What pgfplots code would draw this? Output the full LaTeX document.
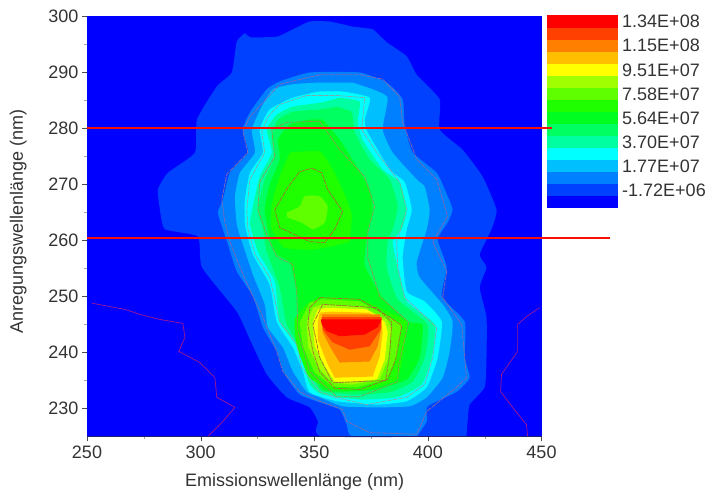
\documentclass[border=0pt]{standalone}
\usepackage{pgfplots}
\pgfplotsset{compat=1.18}
\usepackage{fontspec}
\setmainfont{Liberation Sans}
\definecolor{txt}{gray}{0.2}
\definecolor{bandA}{HTML}{0000FF}
\definecolor{bandB}{HTML}{0040FF}
\definecolor{bandC}{HTML}{0080FF}
\definecolor{bandD}{HTML}{00BFFF}
\definecolor{bandE}{HTML}{00FFFF}
\definecolor{bandF}{HTML}{00FFA0}
\definecolor{bandG}{HTML}{00FF60}
\definecolor{bandH}{HTML}{00FF20}
\definecolor{bandI}{HTML}{20FF00}
\definecolor{bandJ}{HTML}{60FF00}
\definecolor{bandK}{HTML}{A0FF00}
\definecolor{bandL}{HTML}{FFFF00}
\definecolor{bandM}{HTML}{FFBF00}
\definecolor{bandN}{HTML}{FF8000}
\definecolor{bandO}{HTML}{FF4000}
\definecolor{bandP}{HTML}{FF0000}
\definecolor{linepurple}{HTML}{A01890}
\definecolor{lineone}{HTML}{7A68B8}
\definecolor{linetwo}{HTML}{80A8A8}
\definecolor{linethree}{HTML}{8C9A50}
\definecolor{linefour}{HTML}{A07030}
\definecolor{scanred}{HTML}{F81008}
\definecolor{framenavy}{HTML}{202070}
\definecolor{framelight}{HTML}{A0A0D8}
\begin{document}
\begin{tikzpicture}
\useasboundingbox (0pt,0pt) rectangle (709pt,492pt);
% colour bar
\begin{axis}[at={(547pt,284pt)},anchor=south west,width=71pt,height=192.5pt,scale only axis,
  xmin=0,xmax=1,ymin=-1.59,ymax=13.88,axis line style={draw=none},xtick=\empty,
  ytick={13.4,11.47,9.51,7.58,5.64,3.70,1.77,-0.172},
  yticklabels={1.34E+08,1.15E+08,9.51E+07,7.58E+07,5.64E+07,3.70E+07,1.77E+07,-1.72E+06},
  yticklabel pos=right,major tick length=0pt,
  yticklabel style={font=\fontsize{18}{20}\selectfont,text=txt,inner sep=0pt,xshift=4pt},
  clip=false]
\addplot[fill=bandP,draw=none] coordinates {(0,13.88)(1,13.88)(1,-1.59)(0,-1.59)} -- cycle;
\addplot[fill=bandO,draw=none] coordinates {(0,12.91)(1,12.91)(1,-1.59)(0,-1.59)} -- cycle;
\addplot[fill=bandN,draw=none] coordinates {(0,11.95)(1,11.95)(1,-1.59)(0,-1.59)} -- cycle;
\addplot[fill=bandM,draw=none] coordinates {(0,10.98)(1,10.98)(1,-1.59)(0,-1.59)} -- cycle;
\addplot[fill=bandL,draw=none] coordinates {(0,10.01)(1,10.01)(1,-1.59)(0,-1.59)} -- cycle;
\addplot[fill=bandK,draw=none] coordinates {(0,9.05)(1,9.05)(1,-1.59)(0,-1.59)} -- cycle;
\addplot[fill=bandJ,draw=none] coordinates {(0,8.08)(1,8.08)(1,-1.59)(0,-1.59)} -- cycle;
\addplot[fill=bandI,draw=none] coordinates {(0,7.11)(1,7.11)(1,-1.59)(0,-1.59)} -- cycle;
\addplot[fill=bandH,draw=none] coordinates {(0,6.15)(1,6.15)(1,-1.59)(0,-1.59)} -- cycle;
\addplot[fill=bandG,draw=none] coordinates {(0,5.18)(1,5.18)(1,-1.59)(0,-1.59)} -- cycle;
\addplot[fill=bandF,draw=none] coordinates {(0,4.21)(1,4.21)(1,-1.59)(0,-1.59)} -- cycle;
\addplot[fill=bandE,draw=none] coordinates {(0,3.25)(1,3.25)(1,-1.59)(0,-1.59)} -- cycle;
\addplot[fill=bandD,draw=none] coordinates {(0,2.28)(1,2.28)(1,-1.59)(0,-1.59)} -- cycle;
\addplot[fill=bandC,draw=none] coordinates {(0,1.31)(1,1.31)(1,-1.59)(0,-1.59)} -- cycle;
\addplot[fill=bandB,draw=none] coordinates {(0,0.35)(1,0.35)(1,-1.59)(0,-1.59)} -- cycle;
\addplot[fill=bandA,draw=none] coordinates {(0,-0.62)(1,-0.62)(1,-1.59)(0,-1.59)} -- cycle;
\end{axis}
% main contour map
\begin{axis}[at={(87pt,55.5pt)},anchor=south west,width=454.5pt,height=420pt,scale only axis,
  xmin=250,xmax=450,ymin=225,ymax=300,clip=false,
  xtick={250,300,350,400,450},minor x tick num=1,
  ytick={230,240,250,260,270,280,290,300},minor y tick num=1,
  tick align=outside,tick pos=left,
  major tick length=5pt,minor tick length=3pt,
  every major tick/.append style={color=black!70},
  every minor tick/.append style={color=black!35},
  axis line style={color=framelight,line width=0.8pt},
  /pgf/number format/assume math mode=true,
  /pgf/number format/set thousands separator={},
  ticklabel style={font=\fontsize{18}{20}\selectfont,text=txt},
  xticklabel style={yshift=-1pt},
  xlabel={Emissionswellenlänge (nm)},
  ylabel={Anregungswellenlänge (nm)},
  xlabel style={font=\fontsize{18}{20}\selectfont,text=txt,at={(axis description cs:0.457,-0.08)},anchor=north},
  ylabel style={font=\fontsize{18}{20}\selectfont,text=txt,at={(axis description cs:-0.125,0.513)},anchor=south}]
\addplot[fill=bandA,draw=none] coordinates {(250,225)(450,225)(450,300)(250,300)} -- cycle;
% filled bands, outside in
\addplot[fill=bandB,draw=none,smooth,tension=0.3] coordinates {(417,225)(353.7,225)(351.6,227.7)(348,230.2)(337.9,232)(329.1,236.1)(321.7,242.3)(315.9,247.3)(300.6,255.2)(298.8,260.7)(284.3,262)(282.1,265.5)(281.2,269.1)(285.6,272.1)(297.5,275.7)(298.4,281.6)(307.1,287.5)(313.7,290)(315.9,295.5)(319.5,297)(321.7,296.3)(333.5,296.4)(340.6,297.7)(348,299.1)(356.8,299.1)(366.9,298.2)(375.7,297.7)(381.9,295.4)(390.7,292.9)(395.1,289.6)(405.2,285.2)(405.2,279.8)(415.3,276.2)(424.1,271.4)(430.2,265.5)(428,262)(422.8,257.5)(425.8,255.2)(422.8,251.6)(425.8,246.3)(425.8,239.1)(425,233.8)(418.4,230.7)(417.5,227.7)(417,225)} -- cycle;
\addplot[fill=bandC,draw=none,smooth,tension=0.3] coordinates {(395.1,225)(366.9,225)(364.3,227.1)(361.2,229.8)(352.4,231.1)(343.6,232.5)(337,236.1)(333.5,240.2)(327.4,244.5)(323,250)(315.9,254.5)(312,259.3)(309.8,262)(307.6,265)(309.8,267.3)(312.9,272.1)(320.8,275.7)(318.6,279.8)(321.7,282.9)(329.1,287)(334.8,288.4)(348,290)(370,290)(381.9,288.2)(388.9,285.2)(389.8,280.4)(393.3,275.7)(403.9,272.1)(408.7,267.9)(410.9,265.5)(408.7,263.2)(404.3,260.2)(408.3,255.2)(406.1,250)(416.2,245.5)(416.2,239.1)(418.4,235.5)(412.7,233)(399.9,230.4)(399.5,227.7)(395.1,225)} -- cycle;
\addplot[fill=bandD,draw=none,smooth,tension=0.3] coordinates {(366.9,288.2)(375.7,287)(382.3,285.5)(380.1,279.8)(384.5,275.7)(395.1,270.9)(398.6,269.6)(400.8,265.5)(399.5,262)(395.1,256.2)(396.4,253.4)(406.5,248.6)(410.9,245.5)(409.6,240.2)(406.5,235.5)(399.5,232)(392,230.4)(377.5,230.2)(362.5,230.4)(352.4,232)(346.7,233)(340.6,236.6)(336.2,240.9)(329.6,244.5)(328.2,248.6)(323,253.9)(318.6,259.3)(315.9,262.9)(315.1,267.9)(317.3,272.1)(323.9,275.7)(322.5,279.8)(326.9,283.9)(331.8,287)(340.6,287.9)(352.4,288.2)(366.9,288.2)} -- cycle;
\addplot[fill=bandE,draw=none,smooth,tension=0.3] coordinates {(362.5,286.6)(374.4,285.5)(372.2,281.6)(373.5,279.3)(383.2,272.7)(389.8,270.4)(392.9,265.5)(390.7,262)(388.9,257)(390.7,250.9)(398.6,249.1)(406.1,245.5)(404.3,239.1)(399.5,233.8)(390.7,231.3)(377.5,230.7)(359.9,231.3)(348,232.9)(345,236.6)(340.6,240.9)(333.5,245.5)(330.4,252.1)(323,257.5)(319.5,262.9)(319.5,267.3)(321.7,272.1)(327.4,275.7)(326,279.8)(330.4,283.4)(340.6,285.5)(352.4,286.6)(362.5,286.6)} -- cycle;
\addplot[fill=bandF,draw=none,smooth,tension=0.3] coordinates {(361.2,285.5)(370,284.8)(369.1,281.1)(371.3,278)(380.1,272.7)(387.6,270.4)(390.7,265.5)(388.5,262)(384.5,259.8)(386.7,255.2)(390.7,249.1)(403,245)(401.7,239.1)(397.3,234.3)(386.3,232)(370,231.6)(353.7,232.5)(348,234.3)(342.8,240.9)(334.8,245.5)(332.6,252.7)(325.2,258)(321.7,262.9)(323,266.1)(326,271.4)(331.3,275.7)(329.1,279.8)(333.5,282.5)(340.6,283.9)(352.4,284.6)(361.2,285.5)} -- cycle;
\addplot[fill=bandG,draw=none,smooth,tension=0.3] coordinates {(359.9,283.9)(366.5,282.9)(367.8,279.3)(374.4,274.5)(383.2,270.9)(386.7,266.1)(384.5,262)(382.3,259.8)(381.9,255.2)(386.7,249.5)(399.9,245)(398.6,239.1)(393.3,234.8)(383.2,232.9)(366.9,232.5)(352.4,233.4)(345,240.2)(337.9,245)(334.8,251.6)(329.1,258)(327.4,262)(325.2,265.5)(328.2,270.9)(332.6,275)(331.3,278.6)(334,281.6)(340.6,283)(352.4,283.4)(359.9,283.9)} -- cycle;
\addplot[fill=bandH,draw=none,smooth,tension=0.3] coordinates {(353.7,281.6)(361.2,278)(368.7,273.2)(374.4,269.1)(375.7,265.5)(373.5,261.6)(372.2,255.7)(379.7,250)(391.1,245.5)(397.7,245)(396.4,239.1)(390.7,235.2)(377.5,233.4)(362.5,233)(353.7,233.4)(348,237.8)(343.6,245)(342.3,250.9)(339.2,256.1)(333.5,257.5)(330.4,260.5)(328.2,265.5)(330.4,270)(334.8,274.5)(334,278)(339.2,280.7)(348,281.6)(353.7,281.6)} -- cycle;
\addplot[fill=bandI,draw=none,smooth,tension=0.3] coordinates {(339.2,275.7)(352.4,275.9)(358.1,272.7)(363.4,268.2)(366.5,264.6)(365.6,260.2)(364.5,259.6)(350.2,258.4)(337,258.7)(331.3,262)(331.3,266.4)(334.8,271.4)(339.2,275.7)} -- cycle;
\addplot[fill=bandI,draw=none,smooth,tension=0.3] coordinates {(346.7,248.6)(352.4,249.8)(370,249.5)(383.2,247.1)(390.7,245.4)(388.9,239.3)(386.3,235.2)(373.1,233.4)(358.1,233.4)(348,235.5)(342.3,241.1)(341.4,245.9)(346.7,248.6)} -- cycle;
\addplot[fill=bandJ,draw=none,smooth,tension=0.3] coordinates {(337.9,265)(343.6,266.1)(345.8,267.9)(352.4,267.9)(355.9,266.1)(354.6,263.2)(349.4,262)(344.5,263.2)(338.4,264.1)(337.9,265)} -- cycle;
\addplot[fill=bandJ,draw=none] coordinates {(348,248.9)(353.7,249.5)(370,249.1)(383.2,246.3)(388.5,245)(386.3,239.3)(381.9,235.2)(368.7,233.8)(358.1,233.9)(350.2,236.4)(345,241.1)(343.6,245.4)} -- cycle;
\addplot[fill=bandK,draw=none] coordinates {(349.4,248)(353.7,248.6)(371.3,248.2)(381.9,245.9)(384.1,244.1)(382.3,238.7)(378.8,235.2)(366.9,234.3)(358.1,234.6)(352.4,237)(347.2,241.1)(346.7,245.4)} -- cycle;
\addplot[fill=bandL,draw=none] coordinates {(351.6,247.7)(355.5,248)(373.1,247.7)(381,245.5)(382.3,243.6)(381,238.7)(377.5,235.2)(366.9,234.8)(359,234.8)(355.5,237)(350.2,241.1)(349.4,245.4)} -- cycle;
\addplot[fill=bandM,draw=none] coordinates {(352.4,247.1)(356.8,247.3)(374.4,247.1)(379.7,245.4)(380.1,243.6)(378.8,239.3)(375.7,235.7)(359,235.5)(355.9,237.9)(351.6,242.3)(351.6,245.4)} -- cycle;
\addplot[fill=bandN,draw=none] coordinates {(353.3,246.8)(378.8,246.8)(379.7,244.6)(377.9,241.1)(374.4,238.4)(361.2,238.2)(356.8,241.1)(353.7,243.6)} -- cycle;
\addplot[fill=bandO,draw=none] coordinates {(353.3,246.3)(379.7,246.3)(379.2,244.1)(374.4,241.1)(365.6,240.5)(358.1,241.8)(353.7,244.1)} -- cycle;
\addplot[fill=bandP,draw=none] coordinates {(352.9,245.9)(379.7,245.9)(377.9,244.5)(372.2,243.2)(361.2,242.9)(355.5,243.8)(353.3,245)} -- cycle;
% contour lines
\addplot[draw=linepurple,line width=0.7pt] coordinates {(252.2,248.8)(266.7,247.7)(273.3,246.8)(282.1,245.9)(292.2,245.2)(293.1,242.7)(290.4,240.2)(299.7,238.2)(306.3,235.5)(307.1,232)(315.1,230.2)(309.8,227.7)(303.2,225)};
\addplot[draw=linepurple,line width=0.7pt] coordinates {(449.1,248)(443.4,246.4)(439.5,245)(439.5,240.2)(432.4,236.1)(432,233)(437.3,230.2)(443.4,227.1)(443.9,225)};
\addplot[draw=lineone,line width=0.8pt,dash pattern=on 5pt off 1pt] coordinates {(352.4,289.6)(334.8,287.9)(321.7,282.1)(318.6,279.5)(320.8,275.7)(311.5,271.8)(309.3,267.3)(310.7,263.2)(312.9,259.8)(317.3,255.2)(323,250)(326.9,246.8)(333.5,240.2)(336.2,236.6)(343.6,233)(352.4,231.3)(362.5,229.8)(364.3,227.7)(374.4,225.7)(395.1,225.4)(399.5,229.5)(412.7,233.8)(417,235.5)(414.9,245)(406.5,249.8)(408.3,254.5)(402.1,259.8)(408.7,264.3)(403.9,270.9)(395.1,274.5)(388.9,281.1)(387.6,285.7)(380.1,288.8)(370,289.6)(352.4,289.6)};
\addplot[draw=linetwo,line width=0.7pt,dash pattern=on 5pt off 1pt] coordinates {(346.7,285.9)(334.8,284.3)(329.6,282.1)(326.9,279.5)(328.2,275.7)(321.7,270.9)(320.3,265.5)(320.8,262)(323.9,257.5)(330.4,253.4)(334.8,245.5)(342.3,241.4)(344.5,237.3)(352.4,233)(359,232)(373.1,230.7)(390.7,232)(398.6,234.3)(402.1,239.1)(403.9,244.5)(389.8,249.8)(386.7,255.2)(386.3,259.8)(390.7,265.5)(387.6,270.4)(377.5,275.7)(370.9,279.8)(372.2,285.5)(359.9,285.9)(346.7,285.9)};
\addplot[draw=linethree,line width=0.7pt,dash pattern=on 5pt off 1pt] coordinates {(352.4,281.3)(361.2,276.2)(372.2,271.4)(376.6,266.1)(373.5,261.4)(373.5,257)(378.8,250)(391.6,245.4)(387.2,237.9)(386.7,234.8)(370,232.1)(359.9,232.1)(348,236.6)(342.8,243.8)(342.3,250.9)(340.6,255.7)(333.5,257.1)(329.6,260.5)(325.2,265.5)(326,270.4)(332.6,275)(331.3,279.8)(337.9,281.1)(352.4,281.3)};
\addplot[draw=linefour,line width=0.7pt,dash pattern=on 5pt off 1pt] coordinates {(348.9,272.9)(353.3,272.1)(355.9,269.1)(362.5,265.2)(359,262)(354.6,259.6)(348,259.8)(334.8,262.3)(332.6,265.5)(338.4,269.5)(343.6,272.3)(348.9,272.9)};
\addplot[draw=linefour,line width=0.7pt,dash pattern=on 5pt off 1pt] coordinates {(352.4,249.8)(370,249.5)(383.2,246.3)(388.5,244.8)(385.8,238.7)(382.3,235.2)(370,233.4)(359,233.6)(352.4,236.6)(349.4,240.2)(347.2,245)(348,248)(352.4,249.8)};
\addplot[draw=linefour,line width=0.7pt,dash pattern=on 5pt off 1pt] coordinates {(349.4,245)(353.7,248.6)(377.5,248)(384.1,245.4)(383.2,239.6)(381.4,235)(358.1,234.6)(352.4,239.1)(349.4,245)};
% frame bottom and scan lines
\addplot[draw=framenavy,line width=1pt] coordinates {(250,225)(450,225)};
\addplot[draw=scanred,line width=2.2pt] coordinates {(250,280.15)(454.8,280.15)};
\addplot[draw=scanred,line width=1.9pt] coordinates {(250,260.5)(480.3,260.5)};
\end{axis}
\end{tikzpicture}
\end{document}
